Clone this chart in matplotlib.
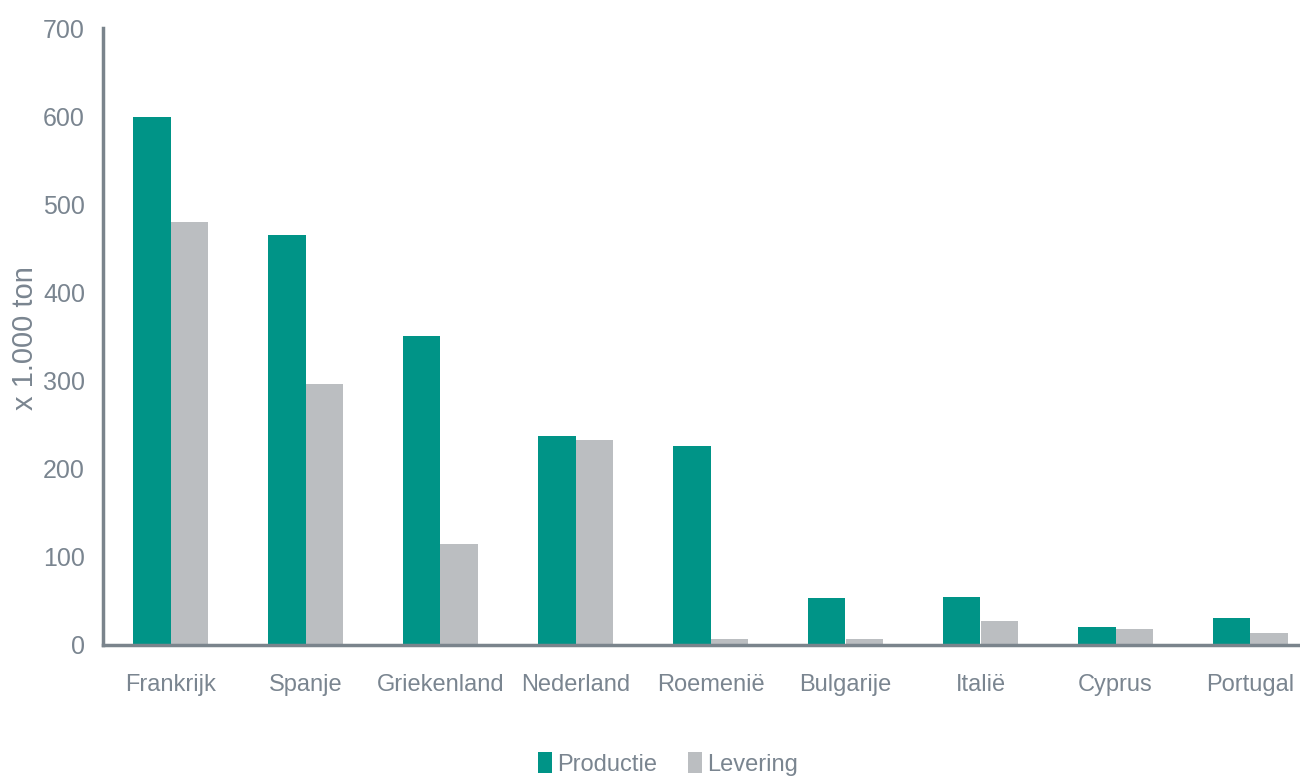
import numpy as np
import matplotlib.pyplot as plt

landen = ['Frankrijk', 'Spanje', 'Griekenland', 'Nederland', 'Roemenië',
          'Bulgarije', 'Italië', 'Cyprus', 'Portugal']
productie = [599, 465, 351, 237, 226, 53, 54, 20, 31]
levering = [480, 296, 115, 233, 7, 7, 27, 18, 14]
yticks = [0, 100, 200, 300, 400, 500, 600, 700]

teal = '#009487'
grijs = '#BBBEC1'
tekst = '#7A8590'
as_kleur = '#7A848C'

plt.rcParams['font.family'] = ['Liberation Sans', 'DejaVu Sans']

fig = plt.figure(figsize=(13, 7.84), dpi=100)
ax = fig.add_axes([103 / 1300, 1 - 645 / 784, 1215 / 1300, (645 - 28) / 784])

x = np.arange(len(landen))
w = 0.281
ax.bar(x - w / 2, productie, width=w, color=teal, label='Productie')
ax.bar(x + w / 2, levering, width=w, color=grijs, label='Levering')

ax.set_xlim(-0.5, len(landen) - 0.5)
ax.set_ylim(0, 700)
ax.set_yticks(yticks)
ax.set_yticklabels([str(v) for v in yticks], fontsize=18, color=tekst)
ax.set_xticks(x)
ax.set_xticklabels(landen, fontsize=17, color=tekst)
ax.tick_params(axis='both', length=0)
ax.tick_params(axis='y', pad=13)
ax.tick_params(axis='x', pad=21)

for s in ['top', 'right']:
    ax.spines[s].set_visible(False)
for s in ['left', 'bottom']:
    ax.spines[s].set_color(as_kleur)
    ax.spines[s].set_linewidth(2.5)

fig.text(25 / 1300, 1 - 338 / 784, 'x 1.000 ton', rotation=90, fontsize=21,
         color=tekst, ha='center', va='center')

fig.legend(loc='center', bbox_to_anchor=(668 / 1300, 1 - 764 / 784), ncol=2,
           frameon=False, fontsize=17, labelcolor=tekst, handlelength=0.6,
           handleheight=1.0, handletextpad=0.2, columnspacing=1.3)

fig.savefig('out.png', dpi=100)
